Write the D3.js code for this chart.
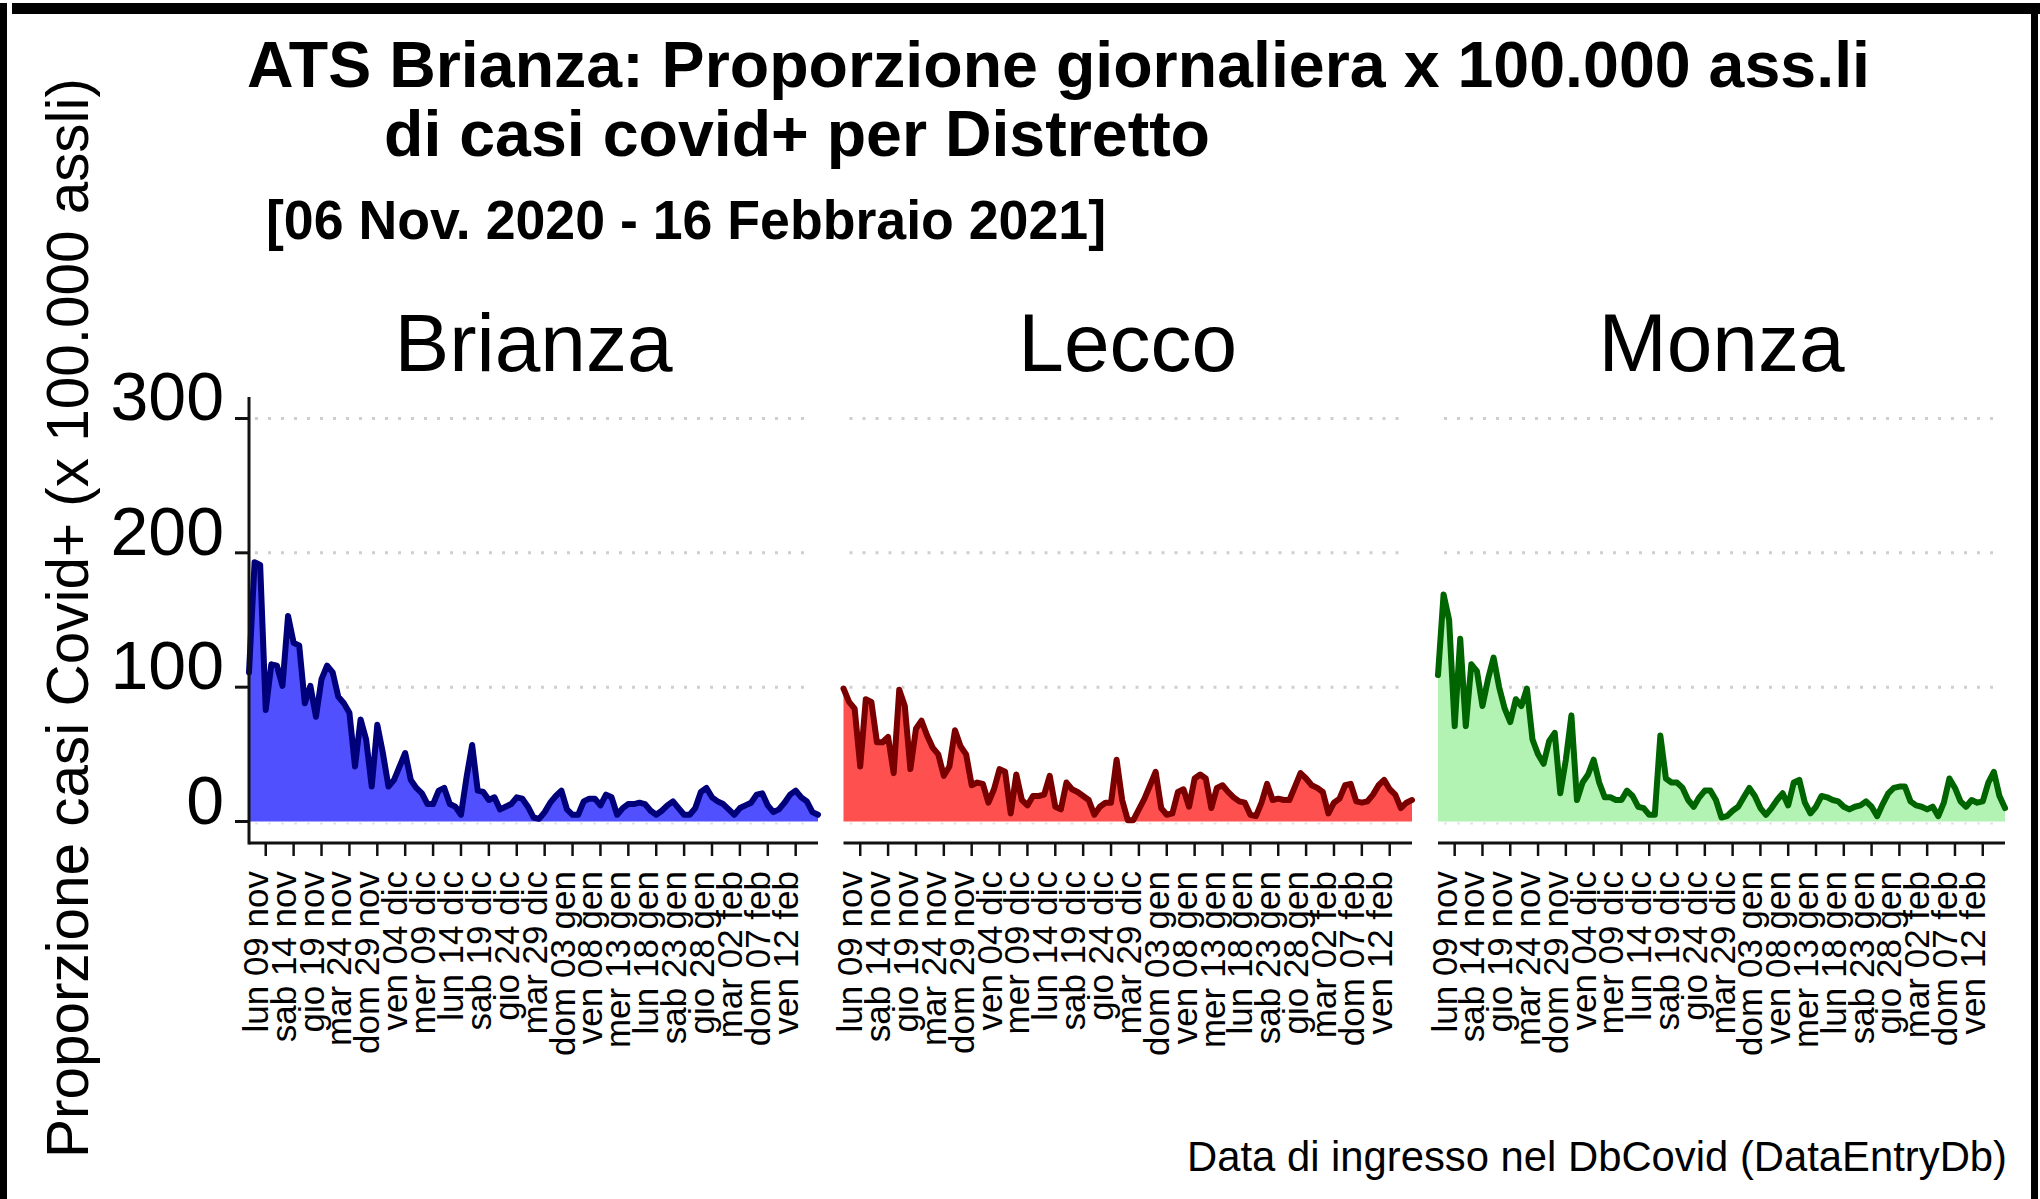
<!DOCTYPE html>
<html><head><meta charset="utf-8">
<script src="https://cdn.jsdelivr.net/npm/d3@7"></script>
<style>
body{margin:0;background:#fff;}
svg{display:block;}
text{font-family:"Liberation Sans",Arial,Helvetica,sans-serif;fill:#000;}
</style>
</head><body>
<script>
// ---------------- DATA ----------------
const startDate = "2020-11-06";
const endDate = "2021-02-16";
const districts = ["Brianza", "Lecco", "Monza"];

const brianza = [111,193,191,83,117,116,101,153,133,131,
 88,101,78,106,116,111,93,88,81,41,
 76,61,26,72,51,26,31,41,51,31,
 25,21,13,13,23,25,13,11,5,33,
 57,23,22,16,18,9,11,13,18,17,
 11,3,2,7,14,19,23,9,5,5,
 15,17,17,12,20,18,5,10,13,13,
 14,13,8,5,8,12,15,10,5,5,
 10,22,25,18,15,13,9,5,10,12,
 14,20,21,12,7,9,14,20,23,18,
 15,7,5];

const lecco = [99,89,84,41,91,89,59,59,63,36,
 98,86,39,69,75,64,55,50,34,41,
 68,56,50,27,29,28,14,24,39,37,
 6,35,16,12,19,19,20,34,11,9,
 29,24,22,19,16,5,11,14,14,46,
 16,1,1,9,17,27,37,10,5,6,
 22,24,11,32,35,32,10,25,27,22,
 18,15,14,5,4,14,28,16,17,16,
 16,26,36,32,27,25,22,6,14,17,
 27,28,15,14,15,20,27,31,24,20,
 10,14,16];

const monza = [109,169,150,71,136,71,117,112,86,106,
 122,100,84,74,91,86,99,61,50,43,
 60,66,21,46,79,16,29,35,46,29,
 18,18,16,16,23,19,11,10,5,5,
 64,32,29,29,25,16,11,18,23,23,
 16,3,4,8,11,18,25,19,10,5,
 10,16,21,12,29,31,14,6,11,19,
 18,16,15,11,9,11,12,15,11,4,
 13,21,25,26,26,15,12,11,9,11,
 4,14,32,25,15,11,16,14,15,29,
 37,19,10];

const tickDates = ["2020-11-09","2020-11-14","2020-11-19","2020-11-24","2020-11-29",
 "2020-12-04","2020-12-09","2020-12-14","2020-12-19","2020-12-24","2020-12-29",
 "2021-01-03","2021-01-08","2021-01-13","2021-01-18","2021-01-23","2021-01-28",
 "2021-02-02","2021-02-07","2021-02-12"];
const tickLabels = ["lun 09 nov","sab 14 nov","gio 19 nov","mar 24 nov","dom 29 nov",
 "ven 04 dic","mer 09 dic","lun 14 dic","sab 19 dic","gio 24 dic","mar 29 dic",
 "dom 03 gen","ven 08 gen","mer 13 gen","lun 18 gen","sab 23 gen","gio 28 gen",
 "mar 02 feb","dom 07 feb","ven 12 feb"];
const yTicks = [0, 100, 200, 300];
const yTickLabels = ["0", "100", "200", "300"];

const titleLines = ["ATS Brianza: Proporzione giornaliera x 100.000 ass.li",
                    "di casi covid+ per Distretto"];
const subtitle = "[06 Nov. 2020 - 16 Febbraio 2021]";
const yTitle = "Proporzione casi Covid+ (x 100.000 assli)";
const note = "Data di ingresso nel DbCovid (DataEntryDb)";

// ---------------- STYLE ----------------
const series = [brianza, lecco, monza];
const fills = ["#5050ff", "#ff5050", "#b2f2b2"];
const strokes = ["#00007a", "#7a0000", "#006400"];
const panelX = [[249, 818], [843.5, 1412], [1438, 2005]];

const W = 2040, H = 1199;
const parse = d3.timeParse("%Y-%m-%d");
const d0 = parse(startDate), d1 = parse(endDate);

const svg = d3.select("body").append("svg").attr("width", W).attr("height", H);
svg.append("rect").attr("width", W).attr("height", H).attr("fill", "#fff");

// frame
svg.append("rect").attr("x", 12).attr("y", 3).attr("width", W - 12).attr("height", 11).attr("fill", "#000");
svg.append("rect").attr("x", 0).attr("y", 3).attr("width", 7).attr("height", H - 3).attr("fill", "#000");
svg.append("rect").attr("x", W - 9).attr("y", 3).attr("width", 7).attr("height", H - 3).attr("fill", "#000");

const y = d3.scaleLinear().domain([-16, 316]).range([843, 397]);

// titles
svg.append("text").attr("x", 247).attr("y", 87).attr("font-size", 65).attr("font-weight", "bold")
  .attr("textLength", 1623).attr("lengthAdjust", "spacingAndGlyphs").text(titleLines[0]);
svg.append("text").attr("x", 384).attr("y", 156).attr("font-size", 65).attr("font-weight", "bold")
  .attr("textLength", 826).attr("lengthAdjust", "spacingAndGlyphs").text(titleLines[1]);
svg.append("text").attr("x", 266).attr("y", 239).attr("font-size", 55).attr("font-weight", "bold")
  .attr("textLength", 840).attr("lengthAdjust", "spacingAndGlyphs").text(subtitle);

// y title
svg.append("text").attr("transform", "translate(88,618) rotate(-90)")
  .attr("text-anchor", "middle").attr("font-size", 60)
  .attr("textLength", 1080).attr("lengthAdjust", "spacingAndGlyphs").text(yTitle);

// note
svg.append("text").attr("x", 2007).attr("y", 1171).attr("text-anchor", "end")
  .attr("font-size", 42).attr("textLength", 820).attr("lengthAdjust", "spacingAndGlyphs").text(note);

districts.forEach((name, k) => {
  const [xa, xb] = panelX[k];
  const x = d3.scaleTime().domain([d0, d1]).range([xa, xb]);
  const g = svg.append("g");
  const data = series[k].map((v, i) => ({ date: d3.timeDay.offset(d0, i), v }));

  // panel title
  g.append("text").attr("x", (xa + xb) / 2).attr("y", 371).attr("text-anchor", "middle")
    .attr("font-size", 82).text(name);

  // gridlines (100,200,300)
  g.selectAll("line.grid").data(yTicks.filter(t => t > 0)).enter().append("line")
    .attr("x1", xa + 6).attr("x2", xb - 6)
    .attr("y1", d => y(d)).attr("y2", d => y(d))
    .attr("stroke", "#cfcfcf").attr("stroke-width", 3).attr("stroke-dasharray", "3,10");

  // area
  const area = d3.area().x(d => x(d.date)).y0(y(0)).y1(d => y(d.v));
  const line = d3.line().x(d => x(d.date)).y(d => y(d.v));
  g.append("path").datum(data).attr("d", area).attr("fill", fills[k]);
  g.append("path").datum(data).attr("d", line).attr("fill", "none")
    .attr("stroke", strokes[k]).attr("stroke-width", 6).attr("stroke-linejoin", "round").attr("stroke-linecap", "round");

  // zero gridline (dots visible at the base)
  g.append("line").attr("x1", xa + 6).attr("x2", xb - 6).attr("y1", y(0) + 2).attr("y2", y(0) + 2)
    .attr("stroke", "#e4e4e4").attr("stroke-width", 2).attr("stroke-dasharray", "3,10");

  // x axis
  const xAxisY = 843;
  g.append("line").attr("x1", xa).attr("x2", xb).attr("y1", xAxisY).attr("y2", xAxisY)
    .attr("stroke", "#111").attr("stroke-width", 3);
  const ticks = tickDates.map((d, i) => ({ date: parse(d), label: tickLabels[i] }));
  g.selectAll("line.xt").data(ticks).enter().append("line")
    .attr("x1", d => x(d.date)).attr("x2", d => x(d.date))
    .attr("y1", xAxisY).attr("y2", xAxisY + 13)
    .attr("stroke", "#111").attr("stroke-width", 2.5);
  g.selectAll("text.xl").data(ticks).enter().append("text")
    .attr("transform", d => `translate(${x(d.date) + 2},${871}) rotate(-90)`)
    .attr("text-anchor", "end").attr("font-size", 35).text(d => d.label);

  // y axis only on first panel
  if (k === 0) {
    g.append("line").attr("x1", xa).attr("x2", xa).attr("y1", 397).attr("y2", xAxisY + 1.5)
      .attr("stroke", "#111").attr("stroke-width", 3);
    g.selectAll("line.yt").data(yTicks).enter().append("line")
      .attr("x1", xa - 14).attr("x2", xa).attr("y1", d => y(d)).attr("y2", d => y(d))
      .attr("stroke", "#111").attr("stroke-width", 3);
    g.selectAll("text.yl").data(yTicks).enter().append("text")
      .attr("x", 224).attr("y", d => y(d) + 2).attr("text-anchor", "end")
      .attr("font-size", 68).text((d, i) => yTickLabels[i]);
  }
});
</script>
</body></html>
